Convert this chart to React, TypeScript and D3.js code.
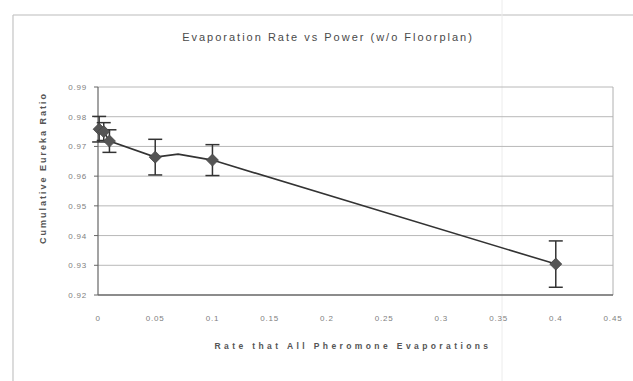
import React from "react";
import * as d3 from "d3";

// values
const xValues = [0.001, 0.005, 0.01, 0.05, 0.07, 0.1, 0.4];
const yValues = [0.9758, 0.975, 0.9718, 0.9664, 0.9674, 0.9654, 0.9304];
const errValues = [0.0043, 0.003, 0.0038, 0.006, 0, 0.0052, 0.0078];
const hasMarker = [true, true, true, true, false, true, true];

const xTicks = [0, 0.05, 0.1, 0.15, 0.2, 0.25, 0.3, 0.35, 0.4, 0.45];
const xTickLabels = ["0", "0.05", "0.1", "0.15", "0.2", "0.25", "0.3", "0.35", "0.4", "0.45"];
const yTicks = [0.92, 0.93, 0.94, 0.95, 0.96, 0.97, 0.98, 0.99];
const yTickLabels = ["0.92", "0.93", "0.94", "0.95", "0.96", "0.97", "0.98", "0.99"];

const title = "Evaporation Rate vs Power (w/o Floorplan)";
const xTitle = "Rate that All Pheromone Evaporations";
const yTitle = "Cumulative Eureka Ratio";

const W = 633;
const H = 381;
const left = 98;
const right = 613;
const top = 87;
const bottom = 295;

const App = () => {
    const x = d3.scaleLinear().domain([0, 0.45]).range([left, right]);
    const y = d3.scaleLinear().domain([0.92, 0.99]).range([bottom, top]);

    const pts = xValues.map((v, i) => ({ x: v, y: yValues[i], e: errValues[i], m: hasMarker[i] }));

    const line = d3
        .line<{ x: number; y: number }>()
        .x((d) => x(d.x))
        .y((d) => y(d.y));

    const font = "'Liberation Sans', Arial, sans-serif";
    const ink = "#333";

    return (
        <svg width={W} height={H} style={{ position: "absolute", left: 0, top: 0, background: "#fff" }}>
            {/* scanned page frame */}
            <line x1={13} y1={15} x2={W} y2={15} stroke="#bbb" strokeWidth={1.2} />
            <line x1={13} y1={15} x2={13} y2={H} stroke="#c4c4c4" strokeWidth={1.2} />
            <line x1={502} y1={0} x2={502} y2={H} stroke="#ececec" strokeWidth={1} />

            <text x={328} y={41} textAnchor="middle" fontFamily={font} fontSize={11} letterSpacing={2} fill="#4a4a4a">
                {title}
            </text>

            {/* gridlines */}
            {yTicks.slice(1).map((t) => (
                <line key={t} x1={left} x2={right} y1={y(t)} y2={y(t)} stroke="#b8b8b8" strokeWidth={1} />
            ))}
            {/* plot frame */}
            <line x1={right} x2={right} y1={top} y2={bottom} stroke="#b0b0b0" strokeWidth={1} />
            <line x1={left} x2={left} y1={top} y2={bottom} stroke="#666" strokeWidth={1.2} />
            <line x1={left} x2={right} y1={bottom} y2={bottom} stroke="#666" strokeWidth={1.4} />

            {yTicks.map((t, i) => (
                <g key={t}>
                    <line x1={left - 4} x2={left} y1={y(t)} y2={y(t)} stroke="#666" />
                    <text x={87} y={y(t) + 3} textAnchor="end" fontFamily={font} fontSize={8} letterSpacing={0.8} fill="#808080">
                        {yTickLabels[i]}
                    </text>
                </g>
            ))}
            {xTicks.map((t, i) => (
                <text key={t} x={x(t)} y={321} textAnchor="middle" fontFamily={font} fontSize={8} letterSpacing={0.8} fill="#808080">
                    {xTickLabels[i]}
                </text>
            ))}

            <text x={353} y={349} textAnchor="middle" fontFamily={font} fontSize={8.5} fontWeight="bold" letterSpacing={3.4} fill="#555">
                {xTitle}
            </text>
            <text
                transform={`translate(46,168) rotate(-90)`}
                textAnchor="middle"
                fontFamily={font}
                fontSize={9}
                fontWeight="bold"
                letterSpacing={2}
                fill="#555"
            >
                {yTitle}
            </text>

            {/* error bars */}
            {pts
                .filter((p) => p.e > 0)
                .map((p) => (
                    <g key={"e" + p.x} stroke={ink} strokeWidth={1.5}>
                        <line x1={x(p.x)} x2={x(p.x)} y1={y(p.y + p.e)} y2={y(p.y - p.e)} />
                        <line x1={x(p.x) - 7} x2={x(p.x) + 7} y1={y(p.y + p.e)} y2={y(p.y + p.e)} />
                        <line x1={x(p.x) - 7} x2={x(p.x) + 7} y1={y(p.y - p.e)} y2={y(p.y - p.e)} />
                    </g>
                ))}

            <path d={line(pts) || ""} fill="none" stroke={ink} strokeWidth={1.6} />

            {pts
                .filter((p) => p.m)
                .map((p) => (
                    <path
                        key={"m" + p.x}
                        d={`M${x(p.x)},${y(p.y) - 6}L${x(p.x) + 6},${y(p.y)}L${x(p.x)},${y(p.y) + 6}L${x(p.x) - 6},${y(p.y)}Z`}
                        fill="#555"
                        stroke="#444"
                        strokeWidth={0.8}
                    />
                ))}
        </svg>
    );
};

export default App;
